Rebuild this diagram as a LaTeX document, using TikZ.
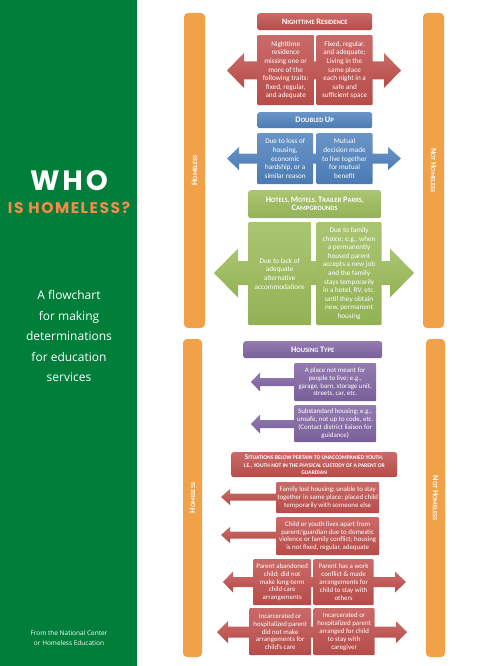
\documentclass[tikz,border=0pt]{standalone}
\usepackage{fontspec}
\setmainfont{Carlito}
\newfontfamily\titlefont[LetterSpace=10]{Poppins}
\newfontfamily\panelfont{Open Sans}
\usetikzlibrary{positioning}

\definecolor{panelgreen}{RGB}{0,126,58}
\definecolor{titleorange}{RGB}{246,139,76}
\definecolor{barorange}{RGB}{241,161,72}
\definecolor{boxred}{RGB}{192,80,77}
\definecolor{boxblue}{RGB}{79,129,189}
\definecolor{boxgreen}{RGB}{155,187,89}
\definecolor{boxpurple}{RGB}{128,100,162}

% first letter of a small-caps word
\newcommand\initcap[1]{{\fontsize{8.4}{9}\selectfont #1}}

\begin{document}
\begin{tikzpicture}[
  x=1pt, y=-1pt,
  bar/.style={fill=barorange, rounded corners=4pt, text=white, inner sep=0pt,
    font=\bfseries\fontsize{6.4}{7}\selectfont},
  header/.style={rounded corners=2.5pt, text=white, align=center, inner sep=1pt,
    anchor=north west, font=\bfseries\fontsize{6.6}{8}\selectfont},
  cell/.style={rounded corners=1pt, text=white, align=center, inner sep=1pt,
    anchor=north west, font=\fontsize{7.2}{8.6}\selectfont},
  small/.style={font=\fontsize{6.9}{7.8}\selectfont},
  redfill/.style={top color=boxred!85!white, bottom color=boxred!95!black},
  bluefill/.style={top color=boxblue!85!white, bottom color=boxblue!95!black},
  greenfill/.style={top color=boxgreen!85!white, bottom color=boxgreen!95!black},
  purplefill/.style={top color=boxpurple!85!white, bottom color=boxpurple!95!black},
  paneltext/.style={text=white, align=center}
]
\useasboundingbox (0,0) rectangle (500,666);

% left panel
\fill[panelgreen] (0,0) rectangle (137,666);
\node[text=white, font=\titlefont\bfseries\fontsize{28}{30}\selectfont] (who) at (69,181) {WHO};
\node[text=titleorange, font=\titlefont\bfseries\fontsize{15.5}{17}\selectfont] (isHomeless) at (69,208) {IS HOMELESS?};
\node[paneltext, font=\panelfont\fontsize{12}{20.5}\selectfont] (subtitle) at (69,336)
  {A flowchart\\for making\\determinations\\for education\\services};
\node[paneltext, font=\panelfont\fontsize{6.5}{10}\selectfont] (source) at (69,638)
  {From the National Center\\or Homeless Education};

% the four bars
\node[bar, rotate=90, minimum width=315pt, minimum height=21pt] (homelessTop) at (194.5,170.5) {\initcap{H}OMELESS};
\node[bar, rotate=-90, minimum width=315pt, minimum height=21pt] (notHomelessTop) at (433.5,170.5) {\initcap{N}OT \initcap{H}OMELESS};
\node[bar, rotate=90, minimum width=318pt, minimum height=19pt] (homelessLow) at (192.5,498) {\initcap{H}OMELESS};
\node[bar, rotate=-90, minimum width=318pt, minimum height=19pt] (notHomelessLow) at (435.5,498) {\initcap{N}OT \initcap{H}OMELESS};

% block arrows behind the boxes
\path[redfill] (227,70.5) -- (244,53) -- (244,61.5) -- (384,61.5) -- (384,53) -- (401,70.5)
  -- (384,88) -- (384,79.5) -- (244,79.5) -- (244,88) -- cycle;
\path[bluefill] (227,158.5) -- (239,147) -- (239,153.5) -- (388,153.5) -- (388,147) -- (401,158.5)
  -- (388,170) -- (388,163.5) -- (239,163.5) -- (239,170) -- cycle;
\path[greenfill] (214,273) -- (238,248.5) -- (238,261) -- (390,261) -- (390,248.5) -- (414,273)
  -- (390,297.5) -- (390,285) -- (238,285) -- (238,297.5) -- cycle;
\path[purplefill] (251,382) -- (260,372.5) -- (260,378) -- (300,378) -- (300,386) -- (260,386) -- (260,391.5) -- cycle;
\path[purplefill] (251,424) -- (260,414.5) -- (260,420) -- (300,420) -- (300,428) -- (260,428) -- (260,433.5) -- cycle;
\path[redfill] (221,497) -- (230,489) -- (230,493.5) -- (280,493.5) -- (280,500.5) -- (230,500.5) -- (230,505) -- cycle;
\path[redfill] (221,535) -- (230,527) -- (230,531.5) -- (280,531.5) -- (280,538.5) -- (230,538.5) -- (230,543) -- cycle;
\path[redfill] (223,582) -- (233,571.5) -- (233,577) -- (395,577) -- (395,571.5) -- (406,582)
  -- (395,592.5) -- (395,587) -- (233,587) -- (233,592.5) -- cycle;
\path[redfill] (217,632) -- (228,621) -- (228,626.5) -- (396,626.5) -- (396,621) -- (407,632)
  -- (396,643) -- (396,637.5) -- (228,637.5) -- (228,643) -- cycle;

% nighttime residence
\node[header, redfill, minimum width=115pt, minimum height=17pt] (nightRes) at (257,13)
  {\initcap{N}IGHTTIME \initcap{R}ESIDENCE};
\node[cell, redfill, minimum width=57pt, minimum height=70pt] (nightResYes) at (257,35)
  {Nighttime\\residence\\missing one or\\more of the\\following traits:\\fixed, regular,\\and adequate};
\node[cell, redfill, minimum width=56pt, minimum height=70pt, anchor=west, right=2pt of nightResYes] (nightResNo)
  {Fixed, regular,\\and adequate;\\Living in the\\same place\\each night in a\\safe and\\sufficient space};

% doubled up
\node[header, bluefill, minimum width=115pt, minimum height=16pt] (doubled) at (257,112)
  {\initcap{D}OUBLED \initcap{U}P};
\node[cell, bluefill, minimum width=56pt, minimum height=51pt] (doubledYes) at (257,133)
  {Due to loss of\\housing,\\economic\\hardship, or a\\similar reason};
\node[cell, bluefill, minimum width=56pt, minimum height=51pt, anchor=west, right=3pt of doubledYes] (doubledNo)
  {Mutual\\decision made\\to live together\\for mutual\\benefit};

% hotels, motels
\node[header, greenfill, minimum width=133pt, minimum height=28pt] (hotels) at (248,190)
  {\initcap{H}OTELS, \initcap{M}OTELS, \initcap{T}RAILER \initcap{P}ARKS,\\\initcap{C}AMPGROUNDS};
\node[cell, greenfill, minimum width=63pt, minimum height=103pt] (hotelsYes) at (248,222)
  {Due to lack of\\adequate\\alternative\\accommodations};
\node[cell, greenfill, minimum width=65pt, minimum height=103pt, anchor=west, right=5pt of hotelsYes] (hotelsNo)
  {Due to family\\choice; e.g., when\\a permanently\\housed parent\\accepts a new job\\and the family\\stays temporarily\\in a hotel, RV, etc.\\until they obtain\\new, permanent\\housing};

% housing type
\node[header, purplefill, minimum width=139pt, minimum height=17pt] (housing) at (243,341)
  {\initcap{H}OUSING \initcap{T}YPE};
\node[cell, small, purplefill, minimum width=82pt, minimum height=38pt] (notMeant) at (294,363)
  {A place not meant for\\people to live; e.g.,\\garage, barn, storage unit,\\streets, car, etc.};
\node[cell, small, purplefill, minimum width=82pt, minimum height=37pt] (substandard) at (294,405)
  {Substandard housing; e.g.,\\unsafe, not up to code, etc.\\(Contact district liaison for\\guidance)};

% unaccompanied youth
\node[header, redfill, minimum width=166pt, minimum height=25pt, font=\bfseries\fontsize{5.6}{7.4}\selectfont] (youth) at (231,452)
  {{\fontsize{7.2}{7.4}\selectfont S}ITUATIONS BELOW PERTAIN TO UNACCOMPANIED YOUTH,\\I.E., YOUTH NOT IN THE \emph{PHYSICAL} CUSTODY OF A PARENT OR\\GUARDIAN};
\node[cell, small, redfill, minimum width=103pt, minimum height=31pt] (lostHousing) at (276,482)
  {Family lost housing; unable to stay\\together in same place; placed child\\temporarily with someone else};
\node[cell, small, redfill, minimum width=103pt, minimum height=38pt] (livesApart) at (276,517)
  {Child or youth lives apart from\\parent/guardian due to domestic\\violence or family conflict; housing\\is not fixed, regular, adequate};
\node[cell, small, redfill, minimum width=58pt, minimum height=46pt] (abandoned) at (253,559)
  {Parent abandoned\\child; did not\\make long-term\\child care\\arrangements};
\node[cell, small, redfill, minimum width=60pt, minimum height=46pt, anchor=west, right=2pt of abandoned] (workConflict)
  {Parent has a work\\conflict \& made\\arrangements for\\child to stay with\\others};
\node[cell, small, redfill, minimum width=62pt, minimum height=47pt] (jailNo) at (249,608)
  {Incarcerated or\\hospitalized parent\\did not make\\arrangements for\\child's care};
\node[cell, small, redfill, minimum width=61pt, minimum height=47pt, anchor=west, right=2pt of jailNo] (jailYes)
  {Incarcerated or\\hospitalized parent\\arranged for child\\to stay with\\caregiver};

\end{tikzpicture}
\end{document}
